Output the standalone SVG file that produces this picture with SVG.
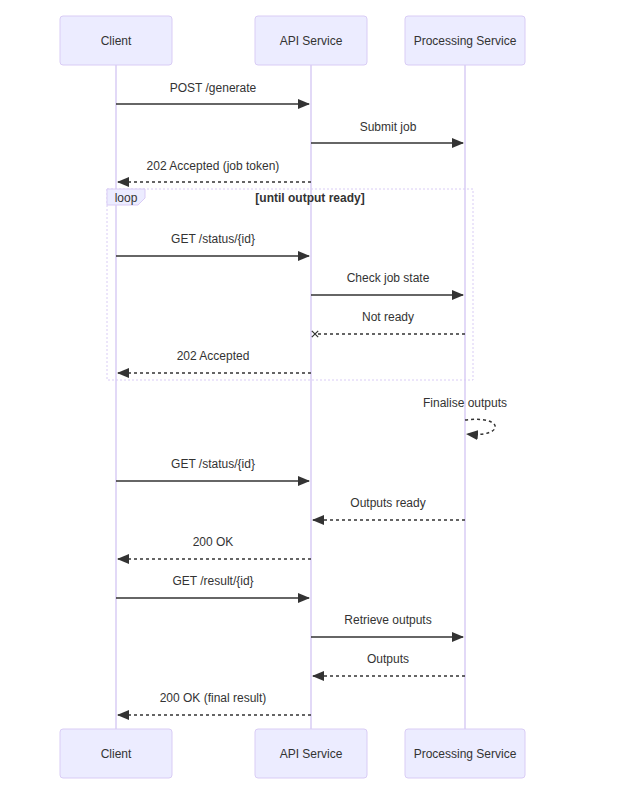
<svg xmlns="http://www.w3.org/2000/svg" width="630" height="799" viewBox="0 0 630 799">
<style>
.actor{fill:#ECECFF;stroke:#D9CCF5;stroke-width:1}
.life{stroke:#D9CCF5;stroke-width:1.5}
.t{font-family:"Liberation Sans",Arial,sans-serif;font-size:12px;fill:#333;text-anchor:middle}
.m{stroke:#333;stroke-width:1.5;fill:none}
.d{stroke-dasharray:3,3}
</style>
<defs>
<marker id="ah" viewBox="0 0 12 10" refX="11" refY="5" markerWidth="12" markerHeight="10" markerUnits="userSpaceOnUse" orient="auto"><path d="M0,0L12,5L0,10z" fill="#333"/></marker>
<marker id="x" viewBox="0 0 10 10" refX="5" refY="5" markerWidth="8" markerHeight="8" markerUnits="userSpaceOnUse" orient="auto"><path d="M1,1L9,9M9,1L1,9" stroke="#333" stroke-width="1.5"/></marker>
</defs>
<rect width="630" height="799" fill="#fff"/>
<g id="lifelines">
<line class="life" x1="116" y1="65" x2="116" y2="729"/>
<line class="life" x1="311" y1="65" x2="311" y2="729"/>
<line class="life" x1="465" y1="65" x2="465" y2="729"/>
</g>
<g id="loop">
<rect x="107" y="189" width="366" height="191" fill="none" stroke="#D9CCF5" stroke-dasharray="2,2"/>
<path d="M107,189H145V198L138,205H107z" fill="#ECECFF" stroke="#D9CCF5"/>
<text class="t" x="126" y="202">loop</text>
<text class="t" x="310" y="202" font-weight="bold">[until output ready]</text>
</g>
<g id="client"><rect class="actor" x="60" y="16" width="112" height="49" rx="3"/><text class="t" x="116" y="45">Client</text></g>
<g id="api"><rect class="actor" x="255" y="16" width="112" height="49" rx="3"/><text class="t" x="311" y="45">API Service</text></g>
<g id="proc"><rect class="actor" x="405" y="16" width="120" height="49" rx="3"/><text class="t" x="465" y="45">Processing Service</text></g>
<g id="client-b"><rect class="actor" x="60" y="729" width="112" height="49" rx="3"/><text class="t" x="116" y="758">Client</text></g>
<g id="api-b"><rect class="actor" x="255" y="729" width="112" height="49" rx="3"/><text class="t" x="311" y="758">API Service</text></g>
<g id="proc-b"><rect class="actor" x="405" y="729" width="120" height="49" rx="3"/><text class="t" x="465" y="758">Processing Service</text></g>
<g id="connectors">
<line class="m" x1="116" y1="104" x2="309" y2="104" marker-end="url(#ah)"/><text class="t" x="213" y="92">POST /generate</text>
<line class="m" x1="311" y1="143" x2="463" y2="143" marker-end="url(#ah)"/><text class="t" x="388" y="131">Submit job</text>
<line class="m d" x1="311" y1="182" x2="118" y2="182" marker-end="url(#ah)"/><text class="t" x="213" y="170">202 Accepted (job token)</text>
<line class="m" x1="116" y1="256" x2="309" y2="256" marker-end="url(#ah)"/><text class="t" x="213" y="243">GET /status/{id}</text>
<line class="m" x1="311" y1="295" x2="463" y2="295" marker-end="url(#ah)"/><text class="t" x="388" y="282">Check job state</text>
<line class="m d" x1="465" y1="334" x2="315" y2="334" marker-end="url(#x)"/><text class="t" x="388" y="321">Not ready</text>
<line class="m d" x1="311" y1="373" x2="118" y2="373" marker-end="url(#ah)"/><text class="t" x="213" y="360">202 Accepted</text>
<path class="m d" d="M465,420C505,415 505,438 467,434" marker-end="url(#ah)"/><text class="t" x="465" y="407">Finalise outputs</text>
<line class="m" x1="116" y1="481" x2="309" y2="481" marker-end="url(#ah)"/><text class="t" x="213" y="468">GET /status/{id}</text>
<line class="m d" x1="465" y1="520" x2="313" y2="520" marker-end="url(#ah)"/><text class="t" x="388" y="507">Outputs ready</text>
<line class="m d" x1="311" y1="559" x2="118" y2="559" marker-end="url(#ah)"/><text class="t" x="213" y="546">200 OK</text>
<line class="m" x1="116" y1="598" x2="309" y2="598" marker-end="url(#ah)"/><text class="t" x="213" y="585">GET /result/{id}</text>
<line class="m" x1="311" y1="637" x2="463" y2="637" marker-end="url(#ah)"/><text class="t" x="388" y="624">Retrieve outputs</text>
<line class="m d" x1="465" y1="676" x2="313" y2="676" marker-end="url(#ah)"/><text class="t" x="388" y="663">Outputs</text>
<line class="m d" x1="311" y1="715" x2="118" y2="715" marker-end="url(#ah)"/><text class="t" x="213" y="702">200 OK (final result)</text>
</g>
</svg>
